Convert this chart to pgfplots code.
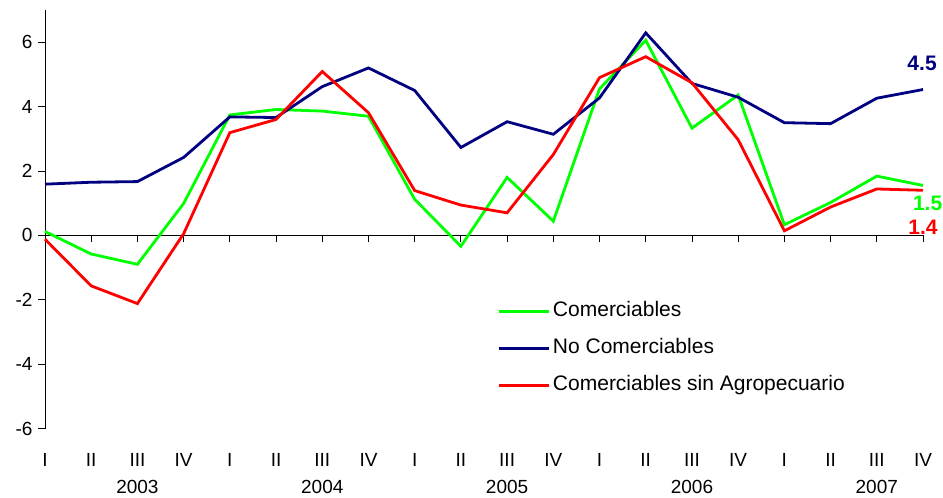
\documentclass[border=0pt]{standalone}
\usepackage{fontspec}
\setmainfont{Liberation Sans}
\usepackage{pgfplots}
\pgfplotsset{compat=1.18}
\definecolor{cgreen}{RGB}{0,255,0}
\definecolor{cnavy}{RGB}{0,0,128}
\definecolor{cred}{RGB}{255,0,0}
\begin{document}
\begin{tikzpicture}
\path[use as bounding box] (-45pt,-69.5pt) rectangle (898pt,428.5pt);
\begin{axis}[
  at={(0pt,0pt)}, anchor=south west,
  width=878pt, height=418.5pt, scale only axis,
  xmin=0, xmax=19, ymin=-6, ymax=7,
  axis y line*=left, axis x line*=middle,
  hide obscured x ticks=false,
  axis line style={black, line width=0.8pt},
  tick style={black, line width=0.8pt},
  major tick length=7pt,
  tick align=outside,
  clip=false,
  ytick={-6,-4,...,6},
  /pgf/number format/assume math mode=true,
  yticklabel style={font=\fontsize{19}{22}\selectfont, xshift=-2pt},
  xtick={0,...,19},
  xticklabels={I,II,{III\\2003},IV,I,II,{III\\2004},IV,I,II,{III\\2005},IV,I,II,{III\\2006},IV,I,II,{III\\2007},IV},
  xticklabel style={align=center, anchor=north, inner sep=0pt, yshift=-211pt, font=\fontsize{19}{27}\selectfont},
  legend image code/.code={\draw[#1] (0pt,0pt) -- (50pt,0pt);},
  legend cell align=left,
  legend style={draw=none, fill=none, at={(axis description cs:0.5148,0.303)}, anchor=north west,
    inner sep=0pt, row sep=18pt, column sep=3pt,
    nodes={inner sep=0pt, text height=15pt, text depth=4pt},
    font=\fontsize{21}{24}\selectfont},
]
\addplot[cgreen, line width=2.8pt] coordinates {
(0,0.12) (1,-0.58) (2,-0.90) (3,0.99) (4,3.74) (5,3.91) (6,3.86) (7,3.70) (8,1.12) (9,-0.34)
(10,1.80) (11,0.44) (12,4.55) (13,6.06) (14,3.33) (15,4.36) (16,0.33) (17,1.02) (18,1.84) (19,1.55)};
\addlegendentry{Comerciables}
\addplot[cnavy, line width=2.8pt] coordinates {
(0,1.59) (1,1.65) (2,1.67) (3,2.42) (4,3.68) (5,3.66) (6,4.62) (7,5.20) (8,4.50) (9,2.73)
(10,3.53) (11,3.14) (12,4.27) (13,6.29) (14,4.72) (15,4.29) (16,3.50) (17,3.47) (18,4.26) (19,4.53)};
\addlegendentry{No Comerciables}
\addplot[cred, line width=2.8pt] coordinates {
(0,-0.12) (1,-1.57) (2,-2.12) (3,0.05) (4,3.19) (5,3.60) (6,5.09) (7,3.81) (8,1.39) (9,0.94)
(10,0.70) (11,2.51) (12,4.90) (13,5.55) (14,4.74) (15,2.97) (16,0.14) (17,0.88) (18,1.44) (19,1.40)};
\addlegendentry{Comerciables sin Agropecuario}
\node[font=\bfseries\fontsize{21}{24}\selectfont, text=cnavy] at (axis cs:18.98,5.33) {4.5};
\node[font=\bfseries\fontsize{21}{24}\selectfont, text=cgreen] at (axis cs:19.1,0.99) {1.5};
\node[font=\bfseries\fontsize{21}{24}\selectfont, text=cred] at (axis cs:19.0,0.25) {1.4};
\end{axis}
\end{tikzpicture}
\end{document}
